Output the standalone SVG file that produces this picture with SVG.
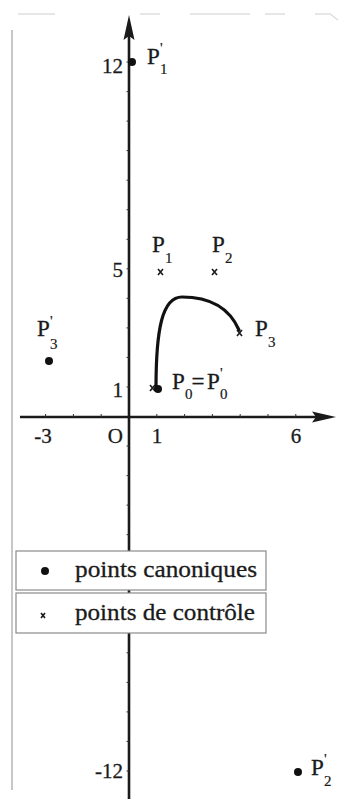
<svg xmlns="http://www.w3.org/2000/svg" width="342" height="799" viewBox="0 0 342 799">
<style>
.ax{stroke:#1a1a1a;stroke-width:2.6;fill:none}
.tk{stroke:#333;stroke-width:1;fill:none}
.num{font-family:"Liberation Serif","Times New Roman",serif;font-size:21px;fill:#1a1a1a;stroke:#1a1a1a;stroke-width:0.3}
.lbl{font-family:"Liberation Serif","Times New Roman",serif;font-size:23px;fill:#1a1a1a;stroke:#1a1a1a;stroke-width:0.3}
.sub{font-family:"Liberation Serif","Times New Roman",serif;font-size:15px;fill:#1a1a1a;stroke:#1a1a1a;stroke-width:0.2}
.leg{font-family:"Liberation Serif","Times New Roman",serif;font-size:24px;fill:#1a1a1a;stroke:#1a1a1a;stroke-width:0.3}
.cr{stroke:#1a1a1a;stroke-width:1.6;fill:none}
.dot{fill:#111}
.box{fill:#fff;stroke:#8a8a8a;stroke-width:1.2}
.frame{stroke:#b5b5b5;stroke-width:1.5;fill:none}
</style>
<rect width="342" height="799" fill="#fff"/>
<g id="frame">
<path class="frame" d="M12,30 V790"/>
<path class="frame" d="M18,14 H55 M140,14 H160 M190,14 H250 M265,14 H285 M315,14 H330 L338,20" stroke-opacity="0.45"/>
</g>
<g id="axes">
<path class="ax" d="M129,799 V28"/>
<path d="M129,15 L123.5,40 L129,36 L134.5,40 Z" fill="#1a1a1a"/>
<path class="ax" d="M20,417 H322"/>
<path d="M336,417 L312,411.5 L316,417 L312,422.5 Z" fill="#1a1a1a"/>
<path class="tk" d="M126.5,62 H129 M126.5,91.6 H129 M126.5,121.1 H129 M126.5,150.6 H129 M126.5,180.2 H129 M126.5,209.7 H129 M126.5,239.3 H129 M126.5,268.8 H129 M126.5,298.3 H129 M126.5,327.9 H129 M126.5,357.4 H129 M126.5,387 H129 M126.5,446 H129 M126.5,475.6 H129 M126.5,505.1 H129 M126.5,534.7 H129 M126.5,652.8 H129 M126.5,682.4 H129 M126.5,711.9 H129 M126.5,741.4 H129 M126.5,771 H129"/>
<path class="tk" d="M45.6,414 V417 M73.4,414 V417 M101.2,414 V417 M156.8,414 V417 M184.6,414 V417 M212.4,414 V417 M240.2,414 V417 M268,414 V417 M295.8,414 V417"/>
<text class="num" x="123" y="73" text-anchor="end">12</text>
<text class="num" x="123" y="277" text-anchor="end">5</text>
<text class="num" x="123" y="397" text-anchor="end">1</text>
<text class="num" x="123" y="778" text-anchor="end">-12</text>
<text class="num" x="43" y="443" text-anchor="middle">-3</text>
<text class="num" x="123" y="443" text-anchor="end">O</text>
<text class="num" x="157" y="443" text-anchor="middle">1</text>
<text class="num" x="296" y="443" text-anchor="middle">6</text>
</g>
<g id="curve">
<path d="M156,388 C156,330 162,297 182,297 C205,297 228,305 239,330" fill="none" stroke="#111" stroke-width="3.2" stroke-linecap="round"/>
</g>
<g id="P0">
<path class="cr" d="M150,385 L155,391 M155,385 L150,391"/>
<circle class="dot" cx="158" cy="389" r="4"/>
<text class="lbl" x="172" y="389">P</text>
<text class="sub" x="185" y="399">0</text>
<text class="lbl" x="198" y="389" text-anchor="middle">=</text>
<text class="lbl" x="207" y="389">P</text>
<text class="sub" x="220" y="378">'</text>
<text class="sub" x="220" y="399">0</text>
</g>
<g id="P1">
<path class="cr" d="M158,269 L163,275 M163,269 L158,275"/>
<text class="lbl" x="152" y="252">P</text>
<text class="sub" x="165" y="263">1</text>
</g>
<g id="P2">
<path class="cr" d="M212,269 L217,275 M217,269 L212,275"/>
<text class="lbl" x="212" y="252">P</text>
<text class="sub" x="225" y="263">2</text>
</g>
<g id="P3">
<path class="cr" d="M237,330 L242,336 M242,330 L237,336"/>
<text class="lbl" x="255" y="336">P</text>
<text class="sub" x="268" y="347">3</text>
</g>
<g id="P1prime">
<circle class="dot" cx="132" cy="62" r="4"/>
<text class="lbl" x="147" y="64">P</text>
<text class="sub" x="160" y="53">'</text>
<text class="sub" x="160" y="74">1</text>
</g>
<g id="P3prime">
<circle class="dot" cx="49" cy="361" r="4"/>
<text class="lbl" x="37" y="336">P</text>
<text class="sub" x="50" y="326">'</text>
<text class="sub" x="50" y="349">3</text>
</g>
<g id="P2prime">
<circle class="dot" cx="298" cy="772" r="4"/>
<text class="lbl" x="311" y="775">P</text>
<text class="sub" x="324" y="764">'</text>
<text class="sub" x="324" y="786">2</text>
</g>
<g id="legend">
<rect class="box" x="16" y="551" width="250" height="39"/>
<rect class="box" x="16" y="593" width="250" height="40"/>
<circle class="dot" cx="45" cy="571" r="4"/>
<text class="leg" x="75" y="577" textLength="182" lengthAdjust="spacingAndGlyphs">points canoniques</text>
<path class="cr" d="M41,613 L45,618 M45,613 L41,618"/>
<text class="leg" x="75" y="620" textLength="180" lengthAdjust="spacingAndGlyphs">points de contrôle</text>
</g>
</svg>
